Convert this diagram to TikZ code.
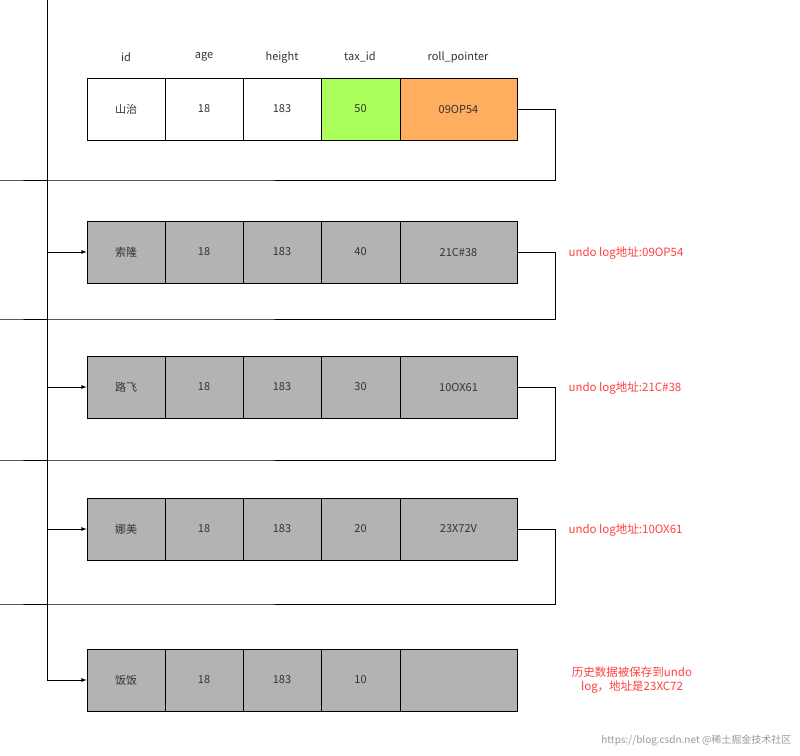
\documentclass[tikz,border=0pt]{standalone}
\usepackage{fontspec}
\setmainfont{Noto Sans CJK SC}
\usetikzlibrary{positioning}
\definecolor{cellgray}{HTML}{B3B3B3}
\definecolor{taxgreen}{HTML}{ABFF5A}
\definecolor{rollorange}{HTML}{FFAD5F}
\definecolor{notered}{HTML}{FF4040}
\tikzset{
  cell/.style={rectangle, draw, thick, minimum height=62pt, inner sep=0pt, font=\fontsize{11}{13}\selectfont, text=black!80},
  head/.style={font=\fontsize{11}{13}\selectfont, text=black!80},
  note/.style={font=\fontsize{11.5}{14}\selectfont, text=notered, align=center},
  link/.style={thick, -latex}
}
\begin{document}
\begin{tikzpicture}[x=1pt, y=-1pt]
  \useasboundingbox (0,0) rectangle (800,755);
  % header
  \node[head] at (126,57) {id};
  \node[head] at (204,57) {age};
  \node[head] at (282,57) {height};
  \node[head] at (360,57) {tax\_id};
  \node[head] at (458,57) {roll\_pointer};
  % first row
  \node[cell, minimum width=78pt, fill=white] (n1) at (126,109) {山治};
  \node[cell, minimum width=78pt, fill=white] (a1) at (204,109) {18};
  \node[cell, minimum width=78pt, fill=white] (h1) at (282,109) {183};
  \node[cell, minimum width=79pt, fill=taxgreen] (t1) at (360.5,109) {50};
  \node[cell, minimum width=117pt, fill=rollorange] (r1) at (458.5,109) {09OP54};
  % history rows
  \foreach \i/\y/\name/\tax/\roll in {2/252/索隆/40/21C\#38, 3/387/路飞/30/10OX61, 4/529/娜美/20/23X72V, 5/680/饭饭/10/{}} {
    \node[cell, minimum width=78pt, fill=cellgray] (n\i) at (126,\y) {\name};
    \node[cell, minimum width=78pt, fill=cellgray] (a\i) at (204,\y) {18};
    \node[cell, minimum width=78pt, fill=cellgray] (h\i) at (282,\y) {183};
    \node[cell, minimum width=79pt, fill=cellgray] (t\i) at (360.5,\y) {\tax};
    \node[cell, minimum width=117pt, fill=cellgray] (r\i) at (458.5,\y) {\roll};
  }
  % pointers
  \foreach \i/\j/\ym in {1/2/180, 2/3/319, 3/4/460, 4/5/604} {
    \draw[link] (r\i.east) -- ++(38,0) |- (0,\ym) -| (47,0) |- (n\j.west);
  }
  % notes
  \node[note, anchor=west] (u2) at (565,253) {undo log地址:09OP54};
  \node[note, anchor=west] (u3) at (565,388) {undo log地址:21C\#38};
  \node[note, anchor=west] (u4) at (565,530) {undo log地址:10OX61};
  \node[note] (u5) at (632,680) {历史数据被保存到undo\\log，地址是23XC72};
  \node[font=\fontsize{10}{12}\selectfont, text=black!40, anchor=east] (wm) at (795,740) {https://blog.csdn.net @稀土掘金技术社区};
\end{tikzpicture}
\end{document}
